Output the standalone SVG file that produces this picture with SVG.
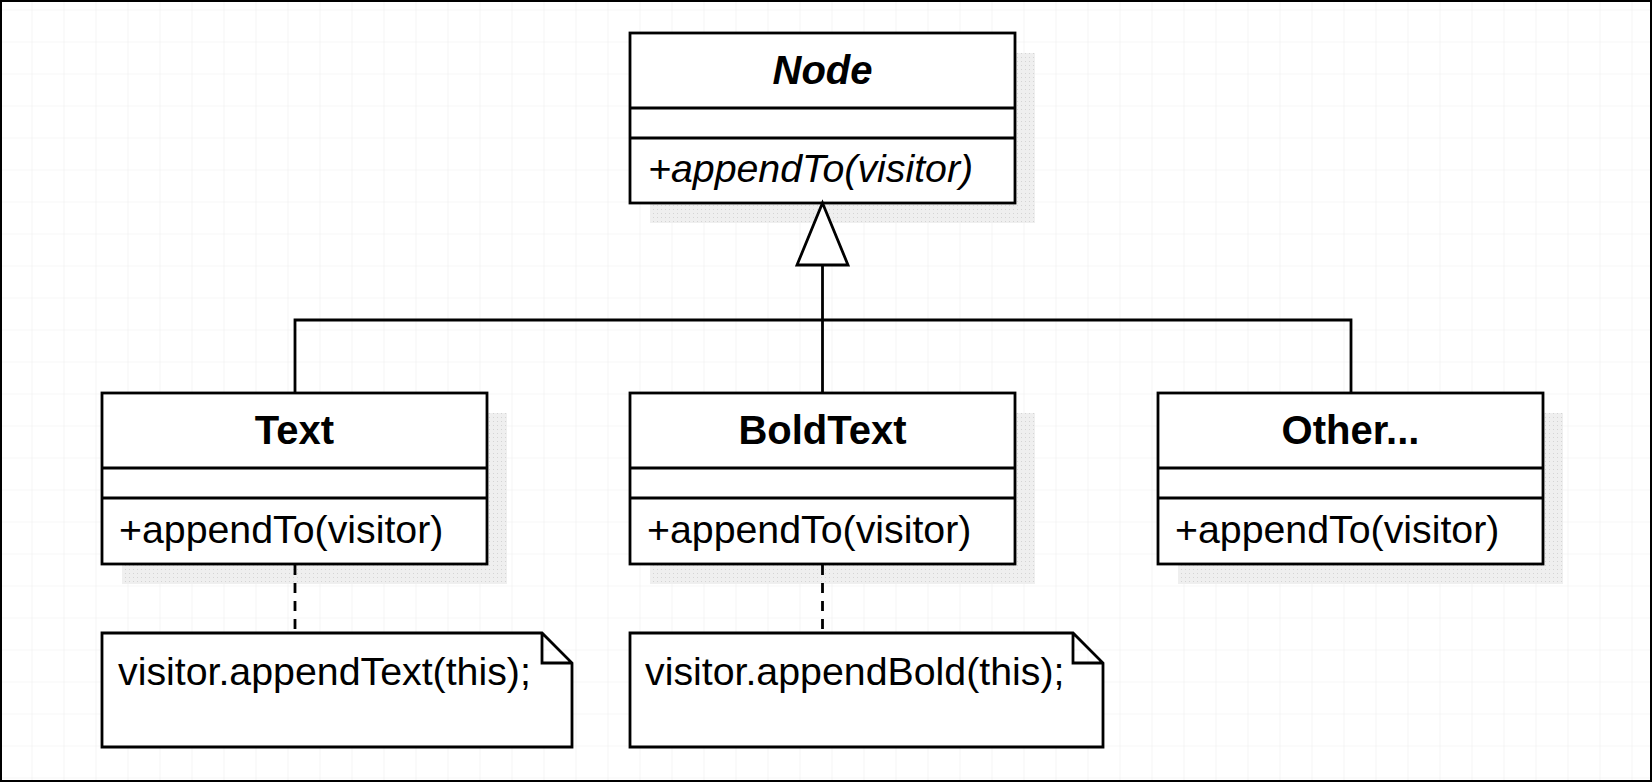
<svg xmlns="http://www.w3.org/2000/svg" width="1652" height="782" viewBox="0 0 1652 782">
<defs>
<pattern id="grid" x="31.5" y="9.5" width="32" height="32" patternUnits="userSpaceOnUse">
<path d="M0,0 H32 M0,0 V32" fill="none" stroke="#eeeeee" stroke-width="1.2"/>
</pattern>
<pattern id="dots" x="0" y="0" width="4" height="4" patternUnits="userSpaceOnUse">
<rect width="4" height="4" fill="#efefef"/>
<rect x="1" y="1" width="1" height="1" fill="#d4d4d4"/>
</pattern>
<style>
.box{fill:#fff;stroke:#000;stroke-width:2.8}
.div{stroke:#000;stroke-width:2.8;fill:none}
.shadow{fill:url(#dots)}
.title{font-family:"Liberation Sans",Arial,sans-serif;font-size:40px;font-weight:bold;text-anchor:middle;fill:#000}
.meth{font-family:"Liberation Sans",Arial,sans-serif;font-size:39.3px;fill:#000}
.note{fill:#fff;stroke:#000;stroke-width:2.8;stroke-linejoin:miter}
.line{fill:none;stroke:#000;stroke-width:2.8}
.dash{fill:none;stroke:#000;stroke-width:2.8;stroke-dasharray:10 8}
</style>
</defs>
<rect x="0" y="0" width="1652" height="782" fill="#fff"/>
<rect x="0" y="0" width="1652" height="782" fill="url(#grid)"/>

<g id="node-Node">
<rect class="shadow" x="650" y="53" width="385" height="170"/>
<rect class="box" x="630" y="33" width="385" height="170"/>
<path class="div" d="M630,108 H1015 M630,138 H1015"/>
<text class="title" x="822.5" y="84" font-style="italic">Node</text>
<text class="meth" x="648" y="182" font-style="italic">+appendTo(visitor)</text>
</g>

<g id="node-Text">
<rect class="shadow" x="122" y="413" width="385" height="171"/>
<rect class="box" x="102" y="393" width="385" height="171"/>
<path class="div" d="M102,468 H487 M102,498 H487"/>
<text class="title" x="294.5" y="444">Text</text>
<text class="meth" x="119" y="543">+appendTo(visitor)</text>
</g>

<g id="node-BoldText">
<rect class="shadow" x="650" y="413" width="385" height="171"/>
<rect class="box" x="630" y="393" width="385" height="171"/>
<path class="div" d="M630,468 H1015 M630,498 H1015"/>
<text class="title" x="822.5" y="444">BoldText</text>
<text class="meth" x="647" y="543">+appendTo(visitor)</text>
</g>

<g id="node-Other">
<rect class="shadow" x="1178" y="413" width="385" height="171"/>
<rect class="box" x="1158" y="393" width="385" height="171"/>
<path class="div" d="M1158,468 H1543 M1158,498 H1543"/>
<text class="title" x="1350.5" y="444">Other...</text>
<text class="meth" x="1175" y="543">+appendTo(visitor)</text>
</g>

<g id="note-Text">
<path class="note" d="M102,633 H542 L572,663 V747 H102 Z M542,633 V663 H572"/>
<text class="meth" x="118" y="685">visitor.appendText(this);</text>
</g>

<g id="note-BoldText">
<path class="note" d="M630,633 H1073 L1103,663 V747 H630 Z M1073,633 V663 H1103"/>
<text class="meth" x="645" y="685">visitor.appendBold(this);</text>
</g>

<g id="connectors">
<path class="line" d="M295,393 V320 H1351 V393"/>
<path class="line" d="M822.5,393 V265"/>
<polygon points="822.5,203 848,265 797,265" fill="#fff" stroke="#000" stroke-width="2.8"/>
<path class="dash" d="M295,565 V633"/>
<path class="dash" d="M822.5,565 V633"/>
</g>

<rect x="1" y="1" width="1650" height="780" fill="none" stroke="#000" stroke-width="2"/>
</svg>
